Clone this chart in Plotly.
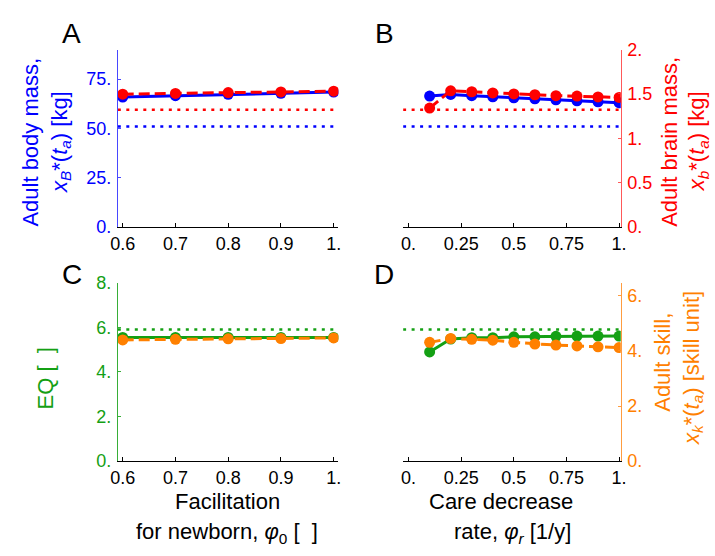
import plotly.graph_objects as go

W, H = 715, 556

# ---------------- data ----------------
phi0 = [0.6, 0.7, 0.8, 0.9, 1.0]
body_A = [65.9, 66.6, 67.3, 67.8, 68.4]
brain_A = [1.497, 1.505, 1.515, 1.522, 1.530]
eq_C = [5.55, 5.55, 5.55, 5.55, 5.55]
skill_C = [4.40, 4.42, 4.44, 4.45, 4.47]

phir = [0.1, 0.2, 0.3, 0.4, 0.5, 0.6, 0.7, 0.8, 0.9, 1.0]
body_B = [66.4, 67.2, 66.6, 66.0, 65.5, 65.0, 64.5, 64.0, 63.5, 63.0]
brain_B = [1.34, 1.535, 1.524, 1.51, 1.50, 1.49, 1.48, 1.475, 1.465, 1.46]
eq_D = [4.90, 5.48, 5.54, 5.54, 5.58, 5.58, 5.60, 5.61, 5.61, 5.61]
skill_D = [4.31, 4.45, 4.42, 4.39, 4.31, 4.25, 4.21, 4.18, 4.15, 4.12]

ref_body = 51.0
ref_brain = 1.32
ref_eq = 5.91

xrange_A = [0.5907, 1.009]
xrange_B = [-0.026, 1.008]
ref_x_A = [0.5907, 1.0]
ref_x_B = [-0.026, 1.0]

xt_A = [0.6, 0.7, 0.8, 0.9, 1.0]
xt_A_txt = ["0.6", "0.7", "0.8", "0.9", "1."]
xt_B = [0, 0.25, 0.5, 0.75, 1.0]
xt_B_txt = ["0.", "0.25", "0.5", "0.75", "1."]
yt_body = [0, 25, 50, 75]
yt_body_txt = ["0.", "25.", "50.", "75."]
yt_brain = [0, 0.5, 1, 1.5, 2]
yt_brain_txt = ["0.", "0.5", "1.", "1.5", "2."]
yt_eq = [0, 2, 4, 6, 8]
yt_eq_txt = ["0.", "2.", "4.", "6.", "8."]
yt_skill = [0, 2, 4, 6]
yt_skill_txt = ["0.", "2.", "4.", "6."]

# ---------------- styles ----------------
BLUE = "#0000ff"
RED = "#ff0000"
GREEN = "#14a014"
ORANGE = "#ff8000"
FONT = "Liberation Sans"

def px(x):
    return x / W

def py(y):
    return 1 - y / H

dom_x_left = [px(112), px(337)]
dom_x_right = [px(403), px(625)]
dom_y_top = [py(225), py(41)]
dom_y_bot = [py(468), py(283)]

fig = go.Figure()

def solid(x, y, color, xa, ya):
    fig.add_trace(go.Scatter(x=x, y=y, mode="lines+markers", xaxis=xa, yaxis=ya,
                             line=dict(color=color, width=3),
                             marker=dict(color=color, size=11), showlegend=False))

def dashed(x, y, color, xa, ya):
    fig.add_trace(go.Scatter(x=x, y=y, mode="lines+markers", xaxis=xa, yaxis=ya,
                             line=dict(color=color, width=3, dash="11px,5px"),
                             marker=dict(color=color, size=11), showlegend=False))

def dotted(x, yval, color, xa, ya):
    fig.add_trace(go.Scatter(x=x, y=[yval] * len(x), mode="lines", xaxis=xa, yaxis=ya,
                             line=dict(color=color, width=2.5, dash="3px,5.5px"),
                             showlegend=False))

# Panel A
dotted(ref_x_A, ref_body, BLUE, "x", "y")
dotted(ref_x_A, ref_brain, RED, "x", "y2")
solid(phi0, body_A, BLUE, "x", "y")
dashed(phi0, brain_A, RED, "x", "y2")
# Panel B
dotted(ref_x_B, ref_body, BLUE, "x2", "y3")
dotted(ref_x_B, ref_brain, RED, "x2", "y4")
solid(phir, body_B, BLUE, "x2", "y3")
dashed(phir, brain_B, RED, "x2", "y4")
# Panel C
dotted(ref_x_A, ref_eq, GREEN, "x3", "y5")
solid(phi0, eq_C, GREEN, "x3", "y5")
dashed(phi0, skill_C, ORANGE, "x3", "y6")
# Panel D
dotted(ref_x_B, ref_eq, GREEN, "x4", "y7")
solid(phir, eq_D, GREEN, "x4", "y7")
dashed(phir, skill_D, ORANGE, "x4", "y8")

def xax(dom, rng, tv, tt, anchor):
    return dict(domain=dom, range=rng, anchor=anchor, tickvals=tv, ticktext=tt,
                showline=True, linecolor="black", linewidth=1, ticks="inside",
                ticklen=4, tickcolor="black", showgrid=False, zeroline=False,
                tickfont=dict(family=FONT, size=18, color="black"), fixedrange=True)

def yax(dom, rng, tv, tt, anchor, color, side="left", visible=True, overlaying=None):
    d = dict(domain=dom, range=rng, anchor=anchor, side=side, showgrid=False,
             zeroline=False, visible=visible, fixedrange=True)
    if visible:
        d.update(tickvals=tv, ticktext=tt, showline=True, linecolor=color, linewidth=1,
                 ticks="inside", ticklen=3, tickcolor=color,
                 tickfont=dict(family=FONT, size=18, color=color), ticklabelstandoff=2)
    if overlaying:
        d["overlaying"] = overlaying
    return d

fig.update_layout(
    width=W, height=H, margin=dict(l=0, r=0, t=0, b=0),
    paper_bgcolor="white", plot_bgcolor="rgba(0,0,0,0)", showlegend=False,
    xaxis=xax(dom_x_left, xrange_A, xt_A, xt_A_txt, "y"),
    xaxis2=xax(dom_x_right, xrange_B, xt_B, xt_B_txt, "y3"),
    xaxis3=xax(dom_x_left, xrange_A, xt_A, xt_A_txt, "y5"),
    xaxis4=xax(dom_x_right, xrange_B, xt_B, xt_B_txt, "y7"),
    yaxis=yax(dom_y_top, [0, 90], yt_body, yt_body_txt, "x", "rgba(40,40,255,0.85)"),
    yaxis2=yax(dom_y_top, [0, 2], yt_brain, yt_brain_txt, "x", RED, side="right",
               visible=False, overlaying="y"),
    yaxis3=yax(dom_y_top, [0, 90], yt_body, yt_body_txt, "x2", BLUE, visible=False),
    yaxis4=yax(dom_y_top, [0, 2], yt_brain, yt_brain_txt, "x2", "rgba(255,60,60,0.85)",
               side="right", overlaying="y3"),
    yaxis5=yax(dom_y_bot, [0, 8], yt_eq, yt_eq_txt, "x3", "rgba(20,160,20,0.85)"),
    yaxis6=yax(dom_y_bot, [0, 6.47], yt_skill, yt_skill_txt, "x3", ORANGE, side="right",
               visible=False, overlaying="y5"),
    yaxis7=yax(dom_y_bot, [0, 8], yt_eq, yt_eq_txt, "x4", GREEN, visible=False),
    yaxis8=yax(dom_y_bot, [0, 6.47], yt_skill, yt_skill_txt, "x4", "rgba(255,140,30,0.85)",
               side="right", overlaying="y7"),
)

fig.layout.yaxis.tickfont.color = BLUE
fig.layout.yaxis4.tickfont.color = RED
fig.layout.yaxis5.tickfont.color = GREEN
fig.layout.yaxis8.tickfont.color = ORANGE

def ann(text, x, y, color="black", size=22, angle=0):
    fig.add_annotation(text=text, x=px(x), y=py(y), xref="paper", yref="paper",
                       showarrow=False, textangle=angle, xanchor="center", yanchor="middle",
                       font=dict(family=FONT, size=size, color=color))

# panel letters
ann("A", 65, 24, size=28)
ann("B", 384, 24, size=28)
ann("C", 65, 274, size=28)
ann("D", 384, 274, size=28)

# axis titles
ann("Adult body mass,", 23, 137, BLUE, angle=-90)
ann("<i>x</i><sub><i>B</i></sub>*(<i>t</i><sub><i>a</i></sub>) [kg]", 54, 137, BLUE, angle=-90)
ann("Adult brain mass,", 674, 137, RED, angle=-90)
ann("<i>x</i><sub><i>b</i></sub>*(<i>t</i><sub><i>a</i></sub>) [kg]", 704, 136, RED, angle=-90)
ann("EQ [  ]", 38, 382, GREEN, angle=-90)
ann("Adult skill,", 668, 365, ORANGE, angle=-90)
ann("<i>x</i><sub><i>k</i></sub>*(<i>t</i><sub><i>a</i></sub>) [skill unit]", 698, 371, ORANGE, angle=-90)
ann("Facilitation", 224, 510)
ann("for newborn, <i>φ</i><sub>0</sub> [  ]", 223, 542)
ann("Care decrease", 503, 510)
ann("rate, <i>φ</i><sub><i>r</i></sub> [1/y]", 515, 542)

fig.write_html("out.html", config={"displayModeBar": False},
               post_script="document.body.style.margin='0';document.body.style.overflow='hidden';")
